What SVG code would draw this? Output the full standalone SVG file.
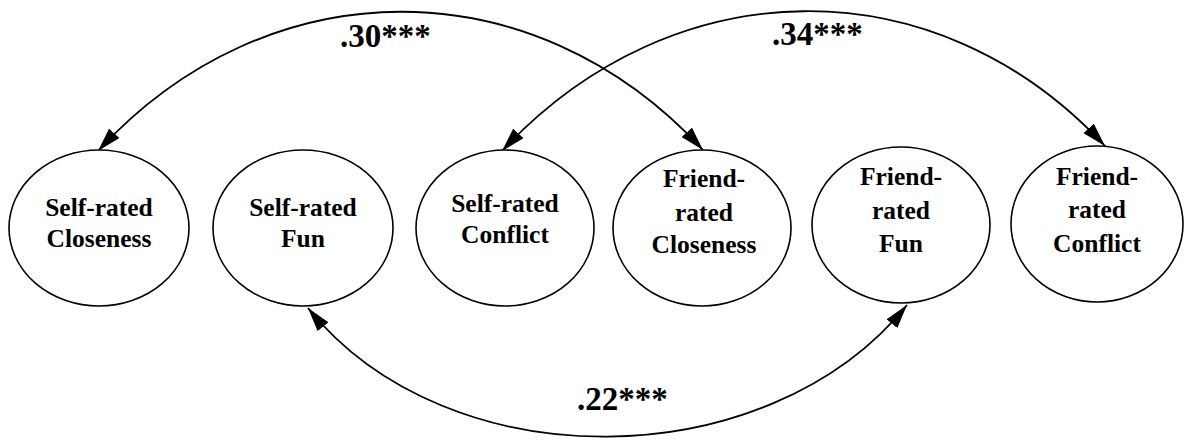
<svg xmlns="http://www.w3.org/2000/svg" width="1184" height="440" viewBox="0 0 1184 440">
<style>
.node{fill:#fff;stroke:#000;stroke-width:1.6}
.t{font-family:"Liberation Serif","Times New Roman",serif;font-weight:bold;font-size:25.5px;fill:#000;text-anchor:middle}
.lab{font-family:"Liberation Serif","Times New Roman",serif;font-weight:bold;font-size:33px;fill:#000}
.arc{fill:none;stroke:#000;stroke-width:1.8;marker-start:url(#ah);marker-end:url(#ah)}
</style>
<defs>
<marker id="ah" markerUnits="userSpaceOnUse" markerWidth="25" markerHeight="14" refX="24" refY="7" orient="auto-start-reverse">
<path d="M0,0 L24,7 L0,14 Z" fill="#000"/>
</marker>
</defs>
<rect width="1184" height="440" fill="#fff"/>
<g id="connectors">
<path class="arc" d="M98,151 C268,-34 533,-35 703,150"/>
<path class="arc" d="M502,151 C672,-32 935,-37 1105,146"/>
<path class="arc" d="M308,308 C448,482 767,478 907,305"/>
</g>
<g id="n1"><ellipse class="node" cx="99" cy="228" rx="90" ry="78"/><text class="t" x="99" y="216">Self-rated</text><text class="t" x="99" y="247">Closeness</text></g>
<g id="n2"><ellipse class="node" cx="303" cy="228" rx="90" ry="78"/><text class="t" x="303" y="216">Self-rated</text><text class="t" x="303" y="247">Fun</text></g>
<g id="n3"><ellipse class="node" cx="505" cy="228" rx="89" ry="78"/><text class="t" x="505" y="212">Self-rated</text><text class="t" x="505" y="243">Conflict</text></g>
<g id="n4"><ellipse class="node" cx="702" cy="228" rx="89" ry="78"/><text class="t" x="704" y="187">Friend-</text><text class="t" x="704" y="221">rated</text><text class="t" x="704" y="253">Closeness</text></g>
<g id="n5"><ellipse class="node" cx="901" cy="225" rx="89" ry="78"/><text class="t" x="901" y="185">Friend-</text><text class="t" x="901" y="219">rated</text><text class="t" x="901" y="252">Fun</text></g>
<g id="n6"><ellipse class="node" cx="1097" cy="224" rx="86" ry="78"/><text class="t" x="1097" y="185">Friend-</text><text class="t" x="1097" y="218">rated</text><text class="t" x="1097" y="252">Conflict</text></g>
<g id="labels">
<text class="lab" x="340" y="47">.30***</text>
<text class="lab" x="772" y="45">.34***</text>
<text class="lab" x="577" y="410">.22***</text>
</g>
</svg>
